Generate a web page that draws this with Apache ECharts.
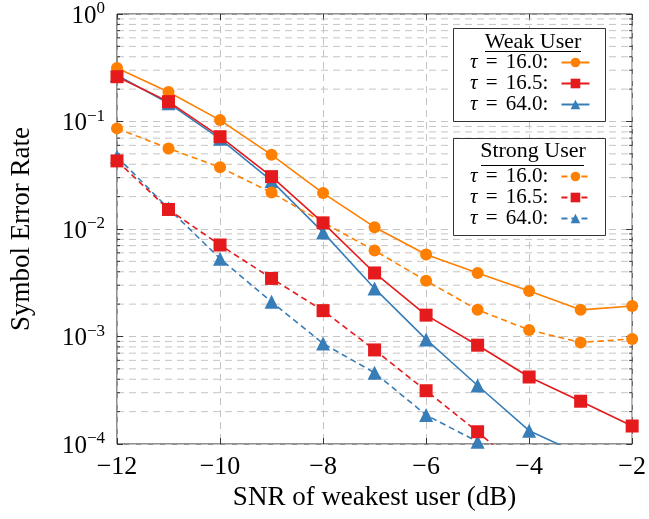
<!DOCTYPE html>
<html lang="en">
<head>
  <meta charset="UTF-8" />
  <title>SER vs SNR</title>
  <style>
    * { padding: 0; margin: 0; }
    html, body { width: 100%; height: 100%; background: #fff; }
    #chart { width: 649px; height: 519px; }
  </style>
</head>
<body>
  <div id="chart"></div>
  <script src="https://cdn.jsdelivr.net/npm/echarts@6/dist/echarts.min.js"></script>
  <script>
    // data
    var snr = [-12, -11, -10, -9, -8, -7, -6, -5, -4, -3, -2]
    var weak160 = [0.315, 0.188, 0.103, 0.049, 0.0216, 0.0104, 0.0058, 0.0039, 0.00265, 0.00177, 0.00192]
    var weak165 = [0.261, 0.153, 0.0722, 0.0307, 0.0114, 0.0039, 0.00158, 0.00083, 0.00042, 0.00025, 0.000147]
    var weak640 = [0.27, 0.148, 0.069, 0.028, 0.0093, 0.0028, 0.00094, 0.00035, 0.000133, 0.00008]
    var strong160 = [0.0863, 0.0562, 0.0375, 0.0218, 0.0115, 0.0063, 0.0033, 0.00177, 0.00115, 0.00088, 0.00095]
    var strong165 = [0.043, 0.0152, 0.0071, 0.00347, 0.00174, 0.00075, 0.000313, 0.00013, 0.00005]
    var strong640 = [0.047, 0.0155, 0.0053, 0.0021, 0.00086, 0.00046, 0.000186, 0.000105]
    var tauLabels = { t160: '16.0', t165: '16.5', t640: '64.0' }
    var decades = [0.0001, 0.001, 0.01, 0.1]
    var minorMult = [2, 3, 4, 5, 6, 7, 8, 9]

    var ORANGE = '#FF7F00', RED = '#E41A1C', BLUE = '#377EB8'
    var FONT = 'Liberation Serif'
    var GRID = '#c4c4c4'

    function pairs(vals) {
      return vals.map(function (v, i) { return [snr[i], v] })
    }
    function mkSeries(name, vals, color, symbol, size, dashed) {
      return {
        name: name,
        type: 'line',
        data: pairs(vals),
        symbol: symbol,
        symbolSize: size,
        showSymbol: true,
        clip: true,
        z: 3,
        itemStyle: { color: color },
        lineStyle: { color: color, width: 1.6, type: dashed ? [6, 4] : 'solid' }
      }
    }

    // minor log grid lines (2..9 x each decade) + inside minor ticks on both sides
    var minorVals = []
    decades.forEach(function (d) {
      minorMult.forEach(function (m) { minorVals.push([-12, m * d]) })
    })
    var minorGrid = {
      type: 'custom',
      name: 'minor',
      silent: true,
      z: 1,
      data: minorVals,
      encode: { x: 0, y: 1 },
      renderItem: function (params, api) {
        var v = api.value(1)
        var p = api.coord([-12, v])
        var q = api.coord([-2, v])
        return {
          type: 'group',
          children: [
            { type: 'line', shape: { x1: p[0], y1: p[1], x2: q[0], y2: q[1] }, style: { stroke: GRID, lineWidth: 1, lineDash: [7, 5] } },
            { type: 'line', shape: { x1: p[0], y1: p[1], x2: p[0] + 3, y2: p[1] }, style: { stroke: '#333', lineWidth: 1 } },
            { type: 'line', shape: { x1: q[0] - 3, y1: q[1], x2: q[0], y2: q[1] }, style: { stroke: '#333', lineWidth: 1 } }
          ]
        }
      }
    }

    var series = [
      minorGrid,
      mkSeries('weak_t640', weak640, BLUE, 'triangle', 14, false),
      mkSeries('strong_t640', strong640, BLUE, 'triangle', 14, true),
      mkSeries('weak_t160', weak160, ORANGE, 'circle', 12, false),
      mkSeries('strong_t160', strong160, ORANGE, 'circle', 12, true),
      mkSeries('weak_t165', weak165, RED, 'rect', 13, false),
      mkSeries('strong_t165', strong165, RED, 'rect', 13, true)
    ]

    function legendFmt(name) {
      var key = name.split('_')[1]
      return '{i|τ} {e|=} ' + tauLabels[key] + ':{g|}'
    }
    var legendText = {
      fontFamily: FONT, fontSize: 21, color: '#000', lineHeight: 21,
      rich: {
        i: { fontFamily: FONT, fontSize: 21, fontStyle: 'italic', color: '#000', lineHeight: 21 },
        e: { fontFamily: FONT, fontSize: 21, color: '#000', lineHeight: 21, padding: [0, 3, 0, 3] },
        g: { width: 8, lineHeight: 21 }
      }
    }
    function mkLegend(prefix, top) {
      return {
        orient: 'vertical',
        left: 470, top: top,
        align: 'right',
        padding: 0,
        z: 10,
        itemWidth: 28, itemHeight: 12, itemGap: 0,
        data: [prefix + '_t160', prefix + '_t165', prefix + '_t640'],
        formatter: legendFmt,
        textStyle: legendText,
        selectedMode: false
      }
    }

    var chart = echarts.init(document.getElementById('chart'), null, { renderer: 'canvas' })
    var option = {
      backgroundColor: '#fff',
      animation: false,
      grid: { left: 115, right: 16, top: 14, bottom: 75, show: true, borderColor: '#222', borderWidth: 1 },
      legend: [mkLegend('weak', 52), mkLegend('strong', 166)],
      xAxis: [{
        type: 'value', min: -12, max: -2, interval: 2,
        name: 'SNR of weakest user (dB)', nameLocation: 'middle', nameGap: 38,
        nameTextStyle: { fontFamily: FONT, fontSize: 27, color: '#000' },
        axisLine: { show: false },
        axisTick: { show: true, inside: true, length: 6, lineStyle: { color: '#333' } },
        axisLabel: {
          fontFamily: FONT, fontSize: 26, color: '#000', margin: 10,
          formatter: function (v) { return String(v).replace('-', '\u2212') }
        },
        splitLine: { show: true, lineStyle: { color: GRID, type: [7, 5], width: 1 } }
      }, {
        type: 'value', min: -12, max: -2, interval: 2, position: 'top',
        axisLine: { show: false },
        axisTick: { show: true, inside: true, length: 6, lineStyle: { color: '#333' } },
        axisLabel: { show: false }, splitLine: { show: false }
      }],
      yAxis: [{
        type: 'log', logBase: 10, min: 0.0001, max: 1,
        name: 'Symbol Error Rate', nameLocation: 'middle', nameGap: 82,
        nameTextStyle: { fontFamily: FONT, fontSize: 27, color: '#000' },
        axisLine: { show: false },
        axisTick: { show: true, inside: true, length: 6, lineStyle: { color: '#333' } },
        axisLabel: {
          fontFamily: FONT, fontSize: 25, color: '#000', margin: 12,
          formatter: function (v) {
            var e = Math.round(Math.log10(v))
            return '{b|10}{s|' + String(e).replace('-', '\u2212') + '}'
          },
          rich: {
            b: { fontFamily: FONT, fontSize: 25, color: '#000', padding: [4, 0, 0, 0] },
            s: { fontFamily: FONT, fontSize: 17, color: '#000', padding: [0, 0, 10, 0] }
          }
        },
        splitLine: { show: true, lineStyle: { color: GRID, type: [7, 5], width: 1 } }
      }, {
        type: 'log', logBase: 10, min: 0.0001, max: 1, position: 'right',
        axisLine: { show: false },
        axisTick: { show: true, inside: true, length: 6, lineStyle: { color: '#333' } },
        axisLabel: { show: false }, splitLine: { show: false }
      }],
      graphic: [
        { type: 'rect', shape: { x: 453.5, y: 28.5, width: 152, height: 93 }, style: { fill: '#fff', stroke: '#333', lineWidth: 1 }, z: 5 },
        { type: 'text', x: 533, y: 42, style: { text: 'Weak User', font: '22px "Liberation Serif"', fill: '#000', align: 'center', verticalAlign: 'middle' }, z: 6 },
        { type: 'line', shape: { x1: 485, y1: 51.5, x2: 581, y2: 51.5 }, style: { stroke: '#000', lineWidth: 1 }, z: 6 },
        { type: 'rect', shape: { x: 453.5, y: 138.5, width: 152, height: 97 }, style: { fill: '#fff', stroke: '#333', lineWidth: 1 }, z: 5 },
        { type: 'text', x: 533, y: 151, style: { text: 'Strong User', font: '22px "Liberation Serif"', fill: '#000', align: 'center', verticalAlign: 'middle' }, z: 6 },
        { type: 'line', shape: { x1: 481, y1: 165.5, x2: 584, y2: 165.5 }, style: { stroke: '#000', lineWidth: 1 }, z: 6 }
      ],
      series: series
    }
    chart.setOption(option)
  </script>
</body>
</html>
